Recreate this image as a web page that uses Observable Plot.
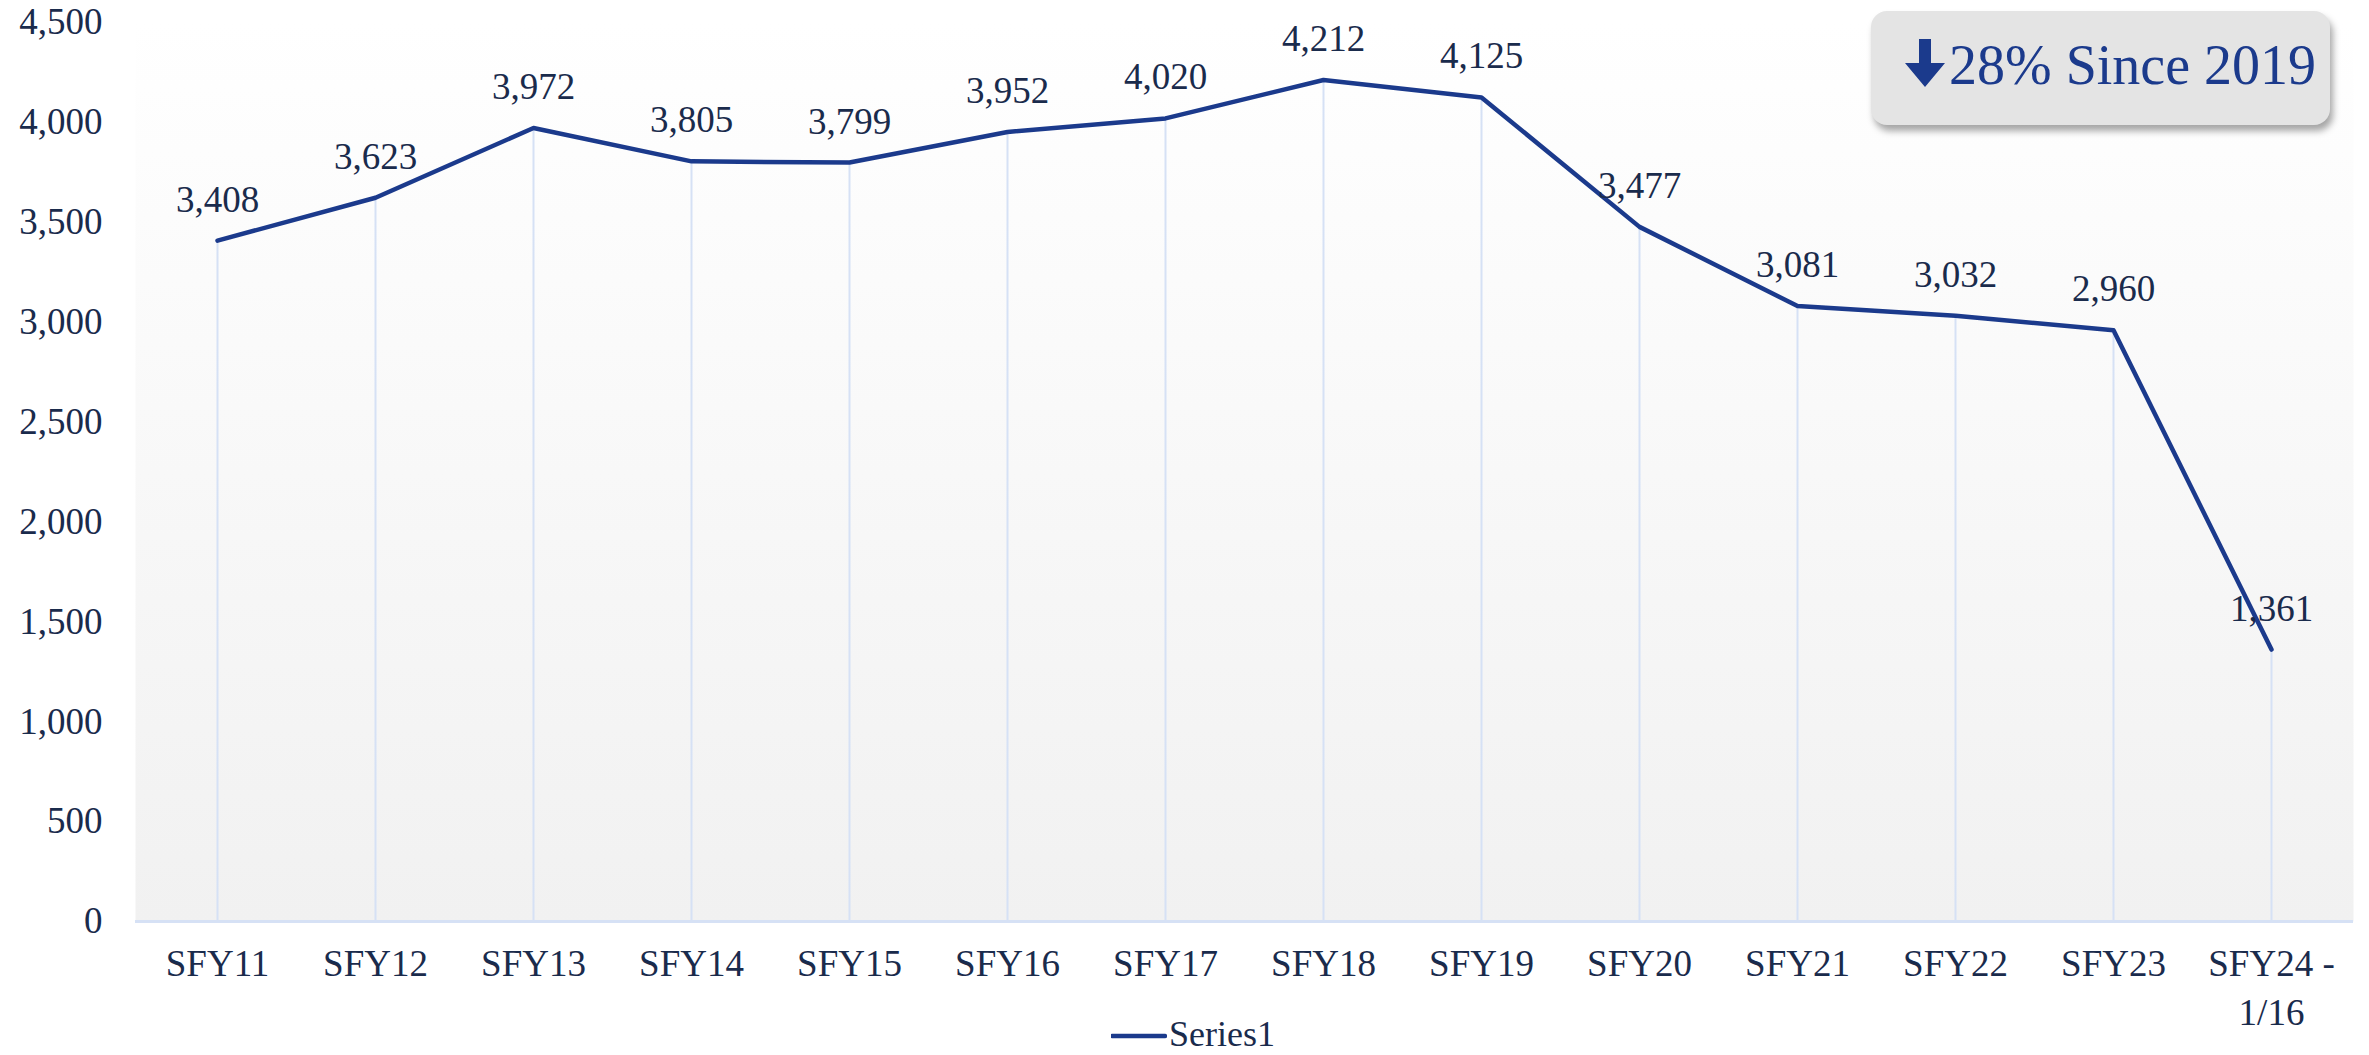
<!DOCTYPE html>
<html>
<head>
<meta charset="utf-8">
<script src="https://cdn.jsdelivr.net/npm/d3@7"></script>
<script src="https://cdn.jsdelivr.net/npm/@observablehq/plot@0.6"></script>
<style>
  html, body { margin: 0; padding: 0; background: #ffffff; }
  body { width: 2369px; height: 1055px; position: relative; overflow: hidden;
         font-family: "Liberation Serif", "Times New Roman", serif; }
  #chart { position: absolute; left: 0; top: 0; }
  #badge { position: absolute; left: 1871px; top: 11px; width: 459px; height: 114px;
           background: #e4e4e4; border-radius: 16px;
           box-shadow: 3px 6px 7px rgba(0,0,0,0.35);
           color: #1b3a8c; font-size: 56px; }
  #badge svg { position: absolute; left: 34px; top: 28px; }
  #badge span { position: absolute; left: 78px; top: 26px; line-height: 56px; white-space: nowrap; }
  #legend { position: absolute; left: 1111px; top: 1016px; height: 36px; width: 200px; }
  #legend svg { position: absolute; left: 0; top: 16px; }
  #legend span { position: absolute; left: 58px; top: 0; font-size: 36px; line-height: 36px; color: #1a2b4c; }
</style>
</head>
<body>
<div id="chart"></div>
<div id="badge"></div>
<div id="legend"></div>
<script>
const categories = ["SFY11","SFY12","SFY13","SFY14","SFY15","SFY16","SFY17","SFY18","SFY19","SFY20","SFY21","SFY22","SFY23","SFY24 - 1/16"];
const values = [3408, 3623, 3972, 3805, 3799, 3952, 4020, 4212, 4125, 3477, 3081, 3032, 2960, 1361];
const yTicks = [0, 500, 1000, 1500, 2000, 2500, 3000, 3500, 4000, 4500];
const badgeText = "28% Since 2019";
const seriesName = "Series1";

const data = categories.map((c, i) => ({cat: c, value: values[i]}));
const fmt = d3.format(",");
const lineColor = "#1b3a8c";
const textColor = "#1a2b4c";
const gridColor = "#d6e1f5";

const defsMark = () => {
  const defs = d3.create("svg:defs");
  const g = defs.append("linearGradient").attr("id", "plotbg")
    .attr("x1", 0).attr("y1", 0).attr("x2", 0).attr("y2", 1);
  g.append("stop").attr("offset", "0%").attr("stop-color", "#ffffff");
  g.append("stop").attr("offset", "100%").attr("stop-color", "#f1f1f1");
  return defs.node();
};

const chart = Plot.plot({
  width: 2369,
  height: 1022,
  marginLeft: 135,
  marginRight: 16,
  marginTop: 22,
  marginBottom: 101,
  style: {fontFamily: "'Liberation Serif', 'Times New Roman', serif", fontSize: "37px", color: textColor, background: "transparent", overflow: "visible"},
  x: {type: "point", domain: categories, padding: 0.5, label: null},
  y: {domain: [0, 4500], label: null},
  marks: [
    defsMark,
    Plot.frame({fill: "url(#plotbg)", stroke: null}),
    Plot.ruleX(data, {x: "cat", y1: 0, y2: "value", stroke: gridColor, strokeWidth: 2}),
    Plot.ruleY([0], {stroke: gridColor, strokeWidth: 3}),
    Plot.lineY(data, {x: "cat", y: "value", stroke: lineColor, strokeWidth: 4.5}),
    Plot.text(data, {x: "cat", y: "value", text: d => fmt(d.value), dy: -29, lineAnchor: "bottom", fill: textColor, fontSize: 37, fontFamily: "'Liberation Serif', serif"}),
    Plot.axisY({ticks: yTicks, tickSize: 0, tickPadding: 33, tickFormat: fmt, fontSize: 37, fill: textColor, label: null, fontFamily: "'Liberation Serif', serif"}),
    Plot.axisX({tickSize: 0, tickPadding: 20, lineHeight: 1.32, fontSize: 37, fill: textColor, label: null, fontFamily: "'Liberation Serif', serif",
                tickFormat: d => d.replace(" - ", " -\n")})
  ]
});
document.getElementById("chart").appendChild(chart);

// Badge annotation
const badge = document.getElementById("badge");
badge.innerHTML = `<svg width="40" height="49" viewBox="0 0 40 49"><polygon points="14,0 26,0 26,24 40,24 20,48 0,24 14,24" fill="${lineColor}"/></svg><span>${badgeText}</span>`;

// Legend
const legend = document.getElementById("legend");
legend.innerHTML = `<svg width="56" height="8"><line x1="1" y1="4" x2="54" y2="4" stroke="${lineColor}" stroke-width="4.5" stroke-linecap="round"/></svg><span>${seriesName}</span>`;
</script>
</body>
</html>
